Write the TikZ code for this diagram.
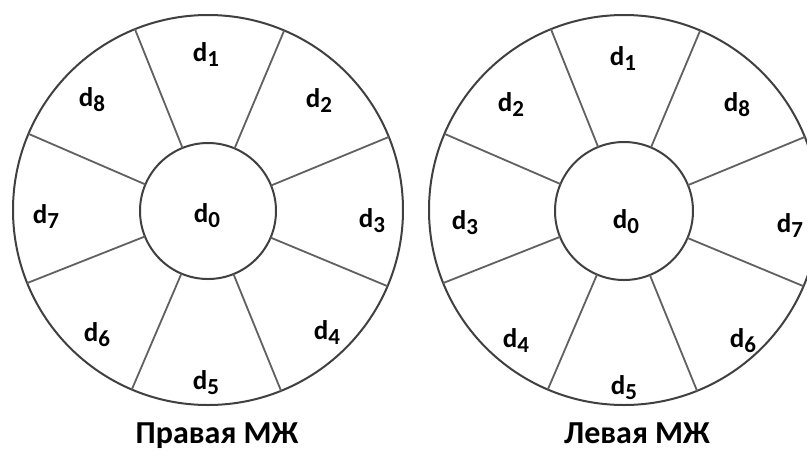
\documentclass[tikz,border=0pt]{standalone}
\usepackage{fontspec}
\setmainfont{Carlito}
\newcommand\dlab[1]{d\raisebox{-5pt}{\fontsize{23}{23}\selectfont #1}}
\begin{document}
\begin{tikzpicture}[x=1pt,y=-1pt,
  ring/.style={circle,draw=black!75,line width=2pt,inner sep=0pt,outer sep=0pt},
  spoke/.style={draw=black!62,line width=1.8pt},
  lab/.style={font=\fontsize{27}{27}\selectfont\bfseries,inner sep=0pt},
  ttl/.style={font=\fontsize{32}{32}\selectfont\bfseries,inner sep=0pt,anchor=base,text depth=0pt}]
\useasboundingbox (0,0) rectangle (807,451);
\clip (0,0) rectangle (807,451);
\fill[white] (0,0) rectangle (807,451);
% left wheel
\node[ring,minimum size=390pt] (LO) at (208,210) {};
\node[ring,minimum size=136pt] (LI) at (208,211) {};
\foreach \a in {22.5,67.5,...,337.5}{\draw[spoke] (LI.\a) -- (LO.\a);}
\node[lab] (L0) at (207,216) {\dlab{0}};
\node[lab] (L1) at (206,55) {\dlab{1}};
\node[lab] (L2) at (319,101) {\dlab{2}};
\node[lab] (L3) at (372,221) {\dlab{3}};
\node[lab] (L4) at (327,333) {\dlab{4}};
\node[lab] (L5) at (206,383) {\dlab{5}};
\node[lab] (L6) at (97,335) {\dlab{6}};
\node[lab] (L7) at (46,217) {\dlab{7}};
\node[lab] (L8) at (92,100) {\dlab{8}};
\node[ttl] (LT) at (217,443) {Правая МЖ};
% right wheel
\node[ring,minimum size=390pt] (RO) at (624,210) {};
\node[ring,minimum size=138pt] (RI) at (624,211) {};
\foreach \a in {22.5,67.5,...,337.5}{\draw[spoke] (RI.\a) -- (RO.\a);}
\node[lab] (R0) at (626,222) {\dlab{0}};
\node[lab] (R1) at (623,59) {\dlab{1}};
\node[lab] (R2) at (511,105) {\dlab{2}};
\node[lab] (R3) at (465,223) {\dlab{3}};
\node[lab] (R4) at (516,341) {\dlab{4}};
\node[lab] (R5) at (624,388) {\dlab{5}};
\node[lab] (R6) at (743,341) {\dlab{6}};
\node[lab] (R7) at (790,226) {\dlab{7}};
\node[lab] (R8) at (737,105) {\dlab{8}};
\node[ttl] (RT) at (637,443) {Левая МЖ};
\end{tikzpicture}
\end{document}
